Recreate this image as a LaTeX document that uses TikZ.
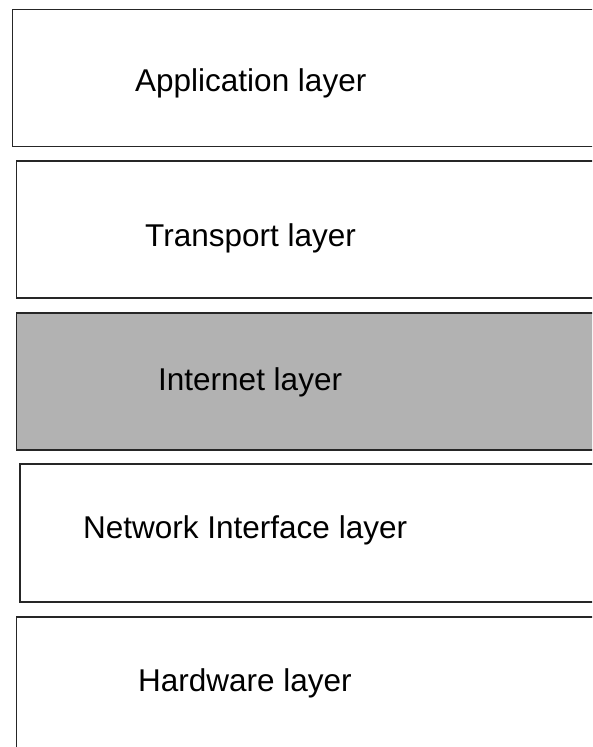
\documentclass[tikz,border=0pt]{standalone}
\usepackage{fontspec}
\setmainfont{Liberation Sans}
\begin{document}
\begin{tikzpicture}[x=1pt,y=1pt,
  layerbox/.style={draw=black!85, line width=1.5pt, rectangle, anchor=north west, inner sep=0pt, minimum width=600pt},
  layertext/.style={anchor=base west, inner sep=0pt, font=\fontsize{31.5}{36}\selectfont, text=black}]
\useasboundingbox (0,0) rectangle (592,-747);
\clip (0,0) rectangle (592,-747);
\node[layerbox, minimum height=137pt] (app) at (11.5,-8.5) {};
\node[layerbox, minimum height=137pt] (tra) at (15.5,-160) {};
\node[layerbox, minimum height=137pt, fill=black!30] (int) at (15.5,-312) {};
\node[layerbox, minimum height=138pt] (net) at (19,-463) {};
\node[layerbox, minimum height=150pt] (hw) at (15.5,-616) {};
\node[layertext] (apptxt) at (135,-91) {Application layer};
\node[layertext] (tratxt) at (145,-246) {Transport layer};
\node[layertext] (inttxt) at (158,-390) {Internet layer};
\node[layertext] (nettxt) at (83,-538) {Network Interface layer};
\node[layertext] (hwtxt) at (138,-691) {Hardware layer};
\end{tikzpicture}
\end{document}
